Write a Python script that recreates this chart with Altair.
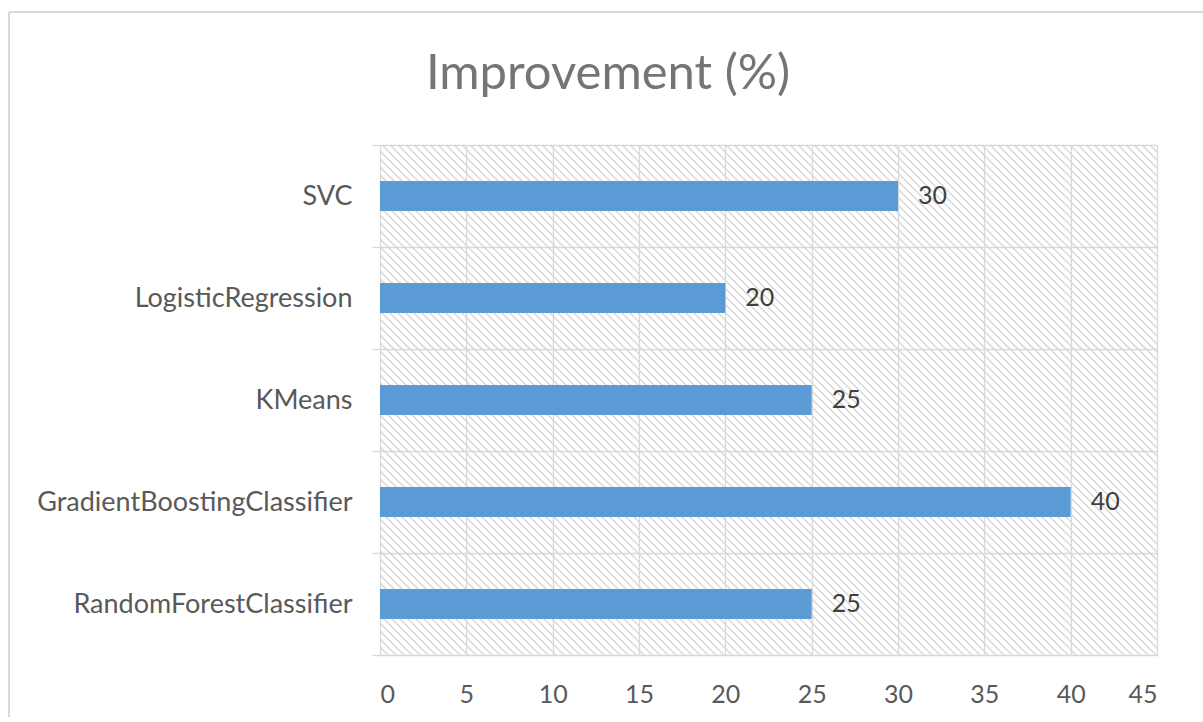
import altair as alt
import pandas as pd

models = ["SVC", "LogisticRegression", "KMeans", "GradientBoostingClassifier", "RandomForestClassifier"]
improvement = [30, 20, 25, 40, 25]
x_ticks = [0, 5, 10, 15, 20, 25, 30, 35, 40, 45]
title_text = "Improvement (%)"

df = pd.DataFrame({"model": models, "improvement": improvement})

W, H = 777, 510
PAD_L, PAD_T = 380, 145
FONT = "Lato"

xscale = alt.Scale(domain=[0, 45], nice=False, zero=True)
xaxis = alt.Axis(
    values=x_ticks,
    grid=True,
    gridColor="#d9d9d9",
    gridWidth=1.3,
    ticks=False,
    domain=False,
    labelFont=FONT,
    labelFontSize=25,
    labelColor="#595959",
    labelPadding=27,
)

# decorative diagonal hatch of the plot background (Excel pattern fill)
span = 45 * H / W  # 45 degree line in data units
step = 45 * 8 / W
hatch = (
    alt.Chart(alt.sequence(0, 200, as_="k"))
    .transform_calculate(x0=f"-{span} + datum.k * {step}", x1=f"-{span} + datum.k * {step} + {span}", ytop="1", ybot="0")
    .mark_rule(color="#d6d6d6", strokeWidth=1.3, clip=True)
    .encode(
        x=alt.X("x0:Q", scale=xscale, axis=xaxis, title=None),
        x2="x1:Q",
        y=alt.Y("ytop:Q", scale=alt.Scale(domain=[0, 1]), axis=None),
        y2="ybot:Q",
    )
)

yenc = alt.Y(
    "model:N",
    sort=models,
    title=None,
    scale=alt.Scale(paddingInner=0, paddingOuter=0),
    axis=alt.Axis(
        tickBand="extent",
        grid=True,
        gridColor="#d9d9d9",
        gridWidth=1.3,
        ticks=True,
        tickSize=8,
        tickColor="#d9d9d9",
        tickWidth=1.3,
        domain=False,
        labelFont=FONT,
        labelFontSize=27,
        labelColor="#595959",
        labelPadding=20,
        labelLimit=400,
    ),
)

bars = alt.Chart(df).mark_bar(color="#5B9BD5", size=30).encode(
    x=alt.X("improvement:Q", scale=xscale, axis=xaxis, title=None), y=yenc
)
labels = alt.Chart(df).mark_text(
    align="left", dx=20, font=FONT, fontSize=25, color="#404040", baseline="middle"
).encode(x=alt.X("improvement:Q", scale=xscale), y=alt.Y("model:N", sort=models), text="improvement:Q")

one = alt.Data(values=[{"t": title_text}])
title = alt.Chart(one).mark_text(
    font=FONT, fontSize=49, color="#757575", align="center", baseline="alphabetic"
).encode(x=alt.value(608 - PAD_L), y=alt.value(89 - PAD_T), text="t:N")

border = alt.Chart(one).mark_rule(color="#d9d9d9", strokeWidth=2).encode(
    x=alt.value(9 - PAD_L), y=alt.value(12 - PAD_T), y2=alt.value(722 - PAD_T)
) + alt.Chart(one).mark_rule(color="#d9d9d9", strokeWidth=2).encode(
    x=alt.value(9 - PAD_L), x2=alt.value(1203 - PAD_L), y=alt.value(12 - PAD_T)
)

main = alt.layer(bars, labels)
chart = (
    alt.layer(hatch, main, border, title)
    .resolve_scale(y="independent")
    .properties(
        width=W,
        height=H,
        padding={"left": PAD_L, "top": PAD_T, "right": 1203 - PAD_L - W, "bottom": 722 - PAD_T - H - 5},
        autosize=alt.AutoSizeParams(type="none"),
    )
    .configure_view(stroke=None)
    .configure(background="white")
)

chart.save("out.html", embed_options={"renderer": "svg", "actions": False})
